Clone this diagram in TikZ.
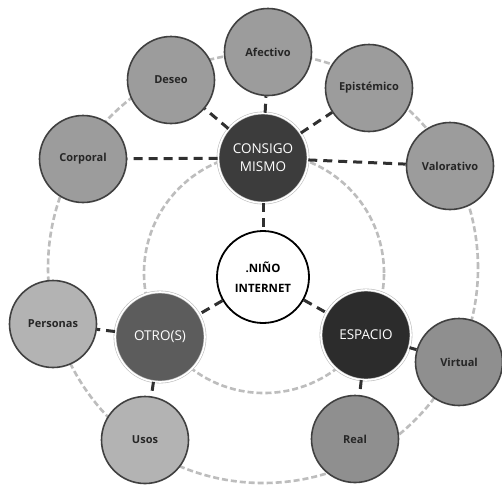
\documentclass[tikz,border=0pt]{standalone}
\usepackage{fontspec}
\setmainfont{Open Sans}
\definecolor{outerA}{HTML}{9C9C9C}
\definecolor{outerB}{HTML}{B3B3B3}
\definecolor{outerC}{HTML}{8F8F8F}
\definecolor{bordgray}{HTML}{404040}
\definecolor{consigoc}{HTML}{3C3C3C}
\definecolor{otroc}{HTML}{5C5C5C}
\definecolor{espacioc}{HTML}{2C2C2C}
\definecolor{ringc}{HTML}{BDBDBD}
\definecolor{linkc}{HTML}{303030}
\definecolor{labelc}{HTML}{262626}
\begin{document}
\begin{tikzpicture}[x=1pt,y=-1pt,
  outer/.style={circle, draw=bordgray, line width=1.6pt, minimum size=87pt, inner sep=0pt,
    text=labelc, font=\fontsize{11}{12}\selectfont\bfseries},
  midnode/.style={circle, draw=ringc, double=white, double distance=1.6pt, line width=0.6pt,
    minimum size=90pt, inner sep=0pt, text=white, align=center,
    font=\fontsize{13.5}{18}\selectfont},
  centernode/.style={circle, draw=black, line width=1.8pt, fill=white, minimum size=92pt,
    inner sep=0pt, align=center, font=\fontsize{11.5}{20}\selectfont\bfseries},
  ring/.style={draw=ringc, line width=2.6pt, dash pattern=on 6pt off 3pt},
  linkline/.style={draw=linkc, line width=3pt, dash pattern=on 9pt off 6pt}]
\useasboundingbox (0,0) rectangle (502,485);
\fill[white] (0,0) rectangle (502,485);
% background rings
\draw[ring] (263,268) circle[radius=215pt];
\draw[ring] (264,273) circle[radius=120pt];
% middle and centre nodes
\node[midnode, fill=consigoc] (consigo) at (263,158) {CONSIGO\\MISMO};
\node[midnode, fill=otroc] (otro) at (160,337) {OTRO(S)};
\node[midnode, fill=espacioc] (espacio) at (366,335) {ESPACIO};
\node[centernode] (nino) at (263,277) {.NIÑO\\INTERNET};
% outer nodes
\node[outer, fill=outerA] (corporal) at (83,159) {Corporal};
\node[outer, fill=outerA] (deseo) at (171,80) {Deseo};
\node[outer, fill=outerA] (afectivo) at (268,52) {Afectivo};
\node[outer, fill=outerA] (epistemico) at (369,88) {Epistémico};
\node[outer, fill=outerA] (valorativo) at (450,166) {Valorativo};
\node[outer, fill=outerB] (personas) at (53,324) {Personas};
\node[outer, fill=outerB] (usos) at (145,440) {Usos};
\node[outer, fill=outerC] (real) at (355,439) {Real};
\node[outer, fill=outerC] (virtual) at (459,362) {Virtual};
% connectors
\draw[linkline] (consigo) -- (corporal);
\draw[linkline] (consigo) -- (deseo);
\draw[linkline] (consigo) -- (afectivo);
\draw[linkline] (consigo) -- (epistemico);
\draw[linkline] (consigo) -- (valorativo);
\draw[linkline] (consigo) -- (nino);
\draw[linkline] (nino) -- (otro);
\draw[linkline] (nino) -- (espacio);
\draw[linkline] (otro) -- (personas);
\draw[linkline] (otro) -- (usos);
\draw[linkline] (espacio) -- (virtual);
\draw[linkline] (espacio) -- (real);
\end{tikzpicture}
\end{document}
